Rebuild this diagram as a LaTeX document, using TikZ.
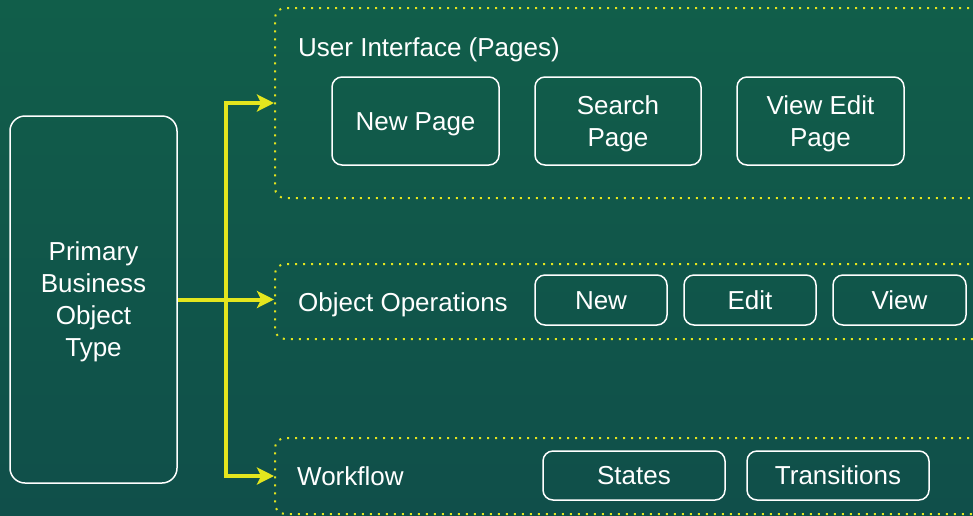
\documentclass[tikz,border=0pt]{standalone}
\usepackage{fontspec}
\setmainfont{Liberation Sans}
\usetikzlibrary{arrows.meta}
\definecolor{bgtop}{RGB}{17,94,74}
\definecolor{bgbot}{RGB}{16,79,74}
\definecolor{lime}{RGB}{228,230,30}
\newcommand{\etai}{\rule[-5.4pt]{0pt}{29.4pt}}
\begin{document}
\begin{tikzpicture}[x=1pt, y=-1pt, font=\fontsize{26}{32}\selectfont,
  every node/.append style={execute at begin node=\etai, execute at end node=\etai}]
\tikzstyle{boite} = [draw=white, line width=1.5pt, rounded corners=10pt, text=white, align=center, inner sep=0pt];
\tikzstyle{groupe} = [draw=lime, line width=2pt, dash pattern=on 2pt off 6pt, rounded corners=10pt, anchor=north west, inner sep=0pt];
\tikzstyle{titre} = [text=white, anchor=west, inner sep=0pt];
\tikzstyle{lien} = [draw=lime, line width=4pt, -{Stealth[length=17pt, width=17pt, inset=4pt]}];
\clip (0,0) rectangle (973,515);
\shade[top color=bgtop, bottom color=bgbot] (0,0) rectangle (973,515);

% objet principal
\node[boite, minimum width=167pt, minimum height=367pt, rounded corners=15pt] (pbo) at (93.5,299.5) {\etai Primary\\Business\\Object\\Type\etai};

% groupes
\node[groupe, minimum width=720pt, minimum height=190pt] (ui) at (274,7) {};
\node[groupe, minimum width=720pt, minimum height=75pt] (ops) at (274,263) {};
\node[groupe, minimum width=720pt, minimum height=76pt] (wf) at (274,437) {};

\node[titre] (uit) at (298,47) {User Interface (Pages)};
\node[titre] (opst) at (298,302) {Object Operations};
\node[titre] (wft) at (297,476) {Workflow};

% pages
\node[boite, minimum width=167pt, minimum height=88pt] (newp) at (415.5,121) {New Page};
\node[boite, minimum width=166pt, minimum height=88pt] (searchp) at (618,121) {\etai Search\\Page\etai};
\node[boite, minimum width=167pt, minimum height=88pt] (viewp) at (820.5,121) {\etai View Edit\\Page\etai};

% operations
\node[boite, minimum width=132pt, minimum height=50pt] (new) at (601,300) {New};
\node[boite, minimum width=132pt, minimum height=50pt] (edit) at (750,300) {Edit};
\node[boite, minimum width=133pt, minimum height=50pt] (view) at (899.5,300) {View};

% workflow
\node[boite, minimum width=182pt, minimum height=49pt] (states) at (634,475.5) {States};
\node[boite, minimum width=182pt, minimum height=49pt] (trans) at (838,475.5) {Transitions};

\coordinate (split) at (226,299.5);
\draw[lien] (pbo.east) -- (pbo.east -| ops.west);
\draw[lien] (split) |- (ui.west);
\draw[lien] (split) |- (wf.west);
\end{tikzpicture}
\end{document}
